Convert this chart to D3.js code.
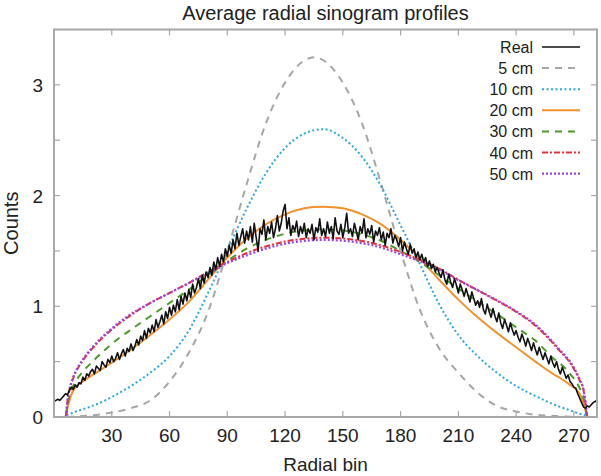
<!DOCTYPE html>
<html>
<head>
<meta charset="utf-8">
<script src="https://cdn.jsdelivr.net/npm/d3@7"></script>
<style>
  html, body { margin: 0; padding: 0; background: #fff; }
  #container { width: 601px; height: 476px; }
  text { font-family: "Liberation Sans", Arial, sans-serif; fill: #222; }
</style>
</head>
<body>
<div id="container"></div>
<script>
// measured real profile, one value per radial bin (0..282)
const realCounts = [
  0.14,0.15,0.16,0.15,0.17,0.19,0.21,0.2,0.24,0.27,
  0.25,0.29,0.27,0.31,0.3,0.36,0.33,0.39,0.37,0.41,
  0.43,0.39,0.46,0.44,0.42,0.5,0.47,0.45,0.52,0.49,
  0.55,0.5,0.53,0.58,0.52,0.57,0.61,0.55,0.62,0.59,
  0.66,0.6,0.64,0.7,0.65,0.73,0.69,0.78,0.71,0.8,
  0.76,0.83,0.77,0.88,0.81,0.86,0.92,0.84,0.95,0.89,
  0.99,0.92,1.01,0.95,1.06,0.97,1.09,1.02,1.12,1.05,
  1.15,1.08,1.2,1.12,1.17,1.25,1.16,1.28,1.21,1.31,
  1.26,1.35,1.28,1.4,1.33,1.44,1.36,1.47,1.4,1.52,
  1.45,1.55,1.48,1.6,1.52,1.66,1.55,1.63,1.7,1.57,
  1.68,1.6,1.72,1.58,1.75,1.62,1.5,1.7,1.65,1.78,
  1.6,1.72,1.66,1.76,1.62,1.7,1.82,1.68,1.75,1.86,
  1.92,1.7,1.8,1.64,1.73,1.68,1.77,1.63,1.72,1.66,
  1.75,1.62,1.7,1.66,1.74,1.6,1.71,1.67,1.79,1.64,
  1.7,1.63,1.76,1.66,1.72,1.61,1.8,1.68,1.65,1.74,
  1.62,1.71,1.84,1.66,1.7,1.63,1.75,1.68,1.6,1.72,
  1.66,1.79,1.62,1.7,1.65,1.73,1.58,1.68,1.64,1.71,
  1.6,1.67,1.55,1.66,1.62,1.7,1.57,1.64,1.6,1.54,
  1.62,1.5,1.58,1.52,1.47,1.56,1.48,1.52,1.44,1.49,
  1.42,1.47,1.4,1.44,1.36,1.41,1.34,1.38,1.31,1.35,
  1.3,1.26,1.33,1.24,1.2,1.29,1.22,1.17,1.25,1.19,
  1.12,1.2,1.15,1.09,1.16,1.1,1.04,1.13,1.07,1.01,
  1.05,0.99,1.07,0.97,0.93,1.02,0.95,0.9,0.98,0.91,
  0.86,0.94,0.85,0.8,0.88,0.83,0.77,0.85,0.79,0.74,
  0.78,0.72,0.68,0.75,0.7,0.64,0.71,0.66,0.6,0.67,
  0.61,0.56,0.63,0.57,0.52,0.58,0.53,0.48,0.55,0.49,
  0.45,0.5,0.43,0.39,0.45,0.4,0.35,0.38,0.32,0.3,
  0.27,0.26,0.21,0.17,0.13,0.09,0.08,0.1,0.09,0.11,
  0.13,0.14,0.15
];

// simulated profiles, sampled at these bins
const modelBins = [0,6,7,8,10,15,20,30,40,50,60,70,80,90,100,110,120,130,135,140,
  150,160,170,180,190,200,210,220,230,240,250,260,263,268,273,275,276,277,282];
const sim5cm  = [0,0,0,0,0.003,0.008,0.015,0.04,0.08,0.15,0.32,0.58,0.95,1.5,2.1,2.65,3.02,3.22,3.25,3.22,
  3.02,2.65,2.1,1.5,0.97,0.62,0.4,0.22,0.1,0.05,0.02,0.01,0.006,0.003,0.001,0,0,0,0];
const sim10cm = [0,0,0.02,0.025,0.04,0.07,0.1,0.18,0.28,0.4,0.55,0.78,1.12,1.5,1.88,2.2,2.43,2.56,2.59,2.6,
  2.52,2.35,2.08,1.73,1.38,1.02,0.74,0.55,0.4,0.28,0.19,0.11,0.09,0.06,0.03,0.02,0.015,0,0];
const sim20cm = [0,0,0.08,0.15,0.24,0.32,0.38,0.49,0.61,0.74,0.88,1.04,1.24,1.44,1.61,1.74,1.83,1.885,1.897,1.9,
  1.885,1.83,1.74,1.6,1.43,1.24,1.06,0.9,0.76,0.63,0.5,0.38,0.35,0.29,0.21,0.13,0.06,0,0];
const sim30cm = [0,0,0.1,0.19,0.28,0.41,0.5,0.66,0.79,0.91,1.03,1.15,1.28,1.41,1.52,1.6,1.655,1.685,1.692,1.695,
  1.685,1.65,1.59,1.5,1.4,1.28,1.16,1.04,0.93,0.81,0.69,0.52,0.48,0.39,0.26,0.17,0.09,0,0];
const sim40cm = [0,0,0.14,0.24,0.35,0.51,0.62,0.79,0.92,1.03,1.12,1.21,1.31,1.4,1.48,1.54,1.585,1.61,1.617,1.62,
  1.612,1.59,1.55,1.49,1.42,1.34,1.24,1.145,1.05,0.95,0.825,0.65,0.59,0.49,0.33,0.24,0.13,0,0];
const sim50cm = [0,0,0.15,0.25,0.36,0.52,0.63,0.8,0.93,1.03,1.12,1.21,1.3,1.39,1.46,1.52,1.565,1.59,1.597,1.6,
  1.592,1.57,1.53,1.47,1.405,1.33,1.235,1.145,1.055,0.955,0.835,0.66,0.6,0.5,0.34,0.25,0.14,0,0];

const legendLabels = ["Real", "5 cm", "10 cm", "20 cm", "30 cm", "40 cm", "50 cm"];
const xTickValues = [30, 60, 90, 120, 150, 180, 210, 240, 270];
const yTickValues = [0, 0.5, 1, 1.5, 2, 2.5, 3, 3.5];

const W = 601, H = 476;
const margin = { top: 29.5, right: 4, bottom: 59, left: 54 };
const frame = "#a8a8a8";

const svg = d3.select("#container").append("svg")
  .attr("width", W).attr("height", H);

const x = d3.scaleLinear().domain([0, 282]).range([margin.left, W - margin.right]);
const y = d3.scaleLinear().domain([0, 3.5]).range([H - margin.bottom, margin.top]);

// ticks on all four sides, pointing inward
const tickLen = 6;
const axes = svg.append("g").attr("stroke", frame).attr("stroke-width", 1.2);
xTickValues.forEach(v => {
  axes.append("line").attr("x1", x(v)).attr("x2", x(v)).attr("y1", y(0)).attr("y2", y(0) - tickLen);
  axes.append("line").attr("x1", x(v)).attr("x2", x(v)).attr("y1", y(3.5)).attr("y2", y(3.5) + tickLen);
});
yTickValues.forEach(v => {
  axes.append("line").attr("x1", x(0)).attr("x2", x(0) + tickLen).attr("y1", y(v)).attr("y2", y(v));
  axes.append("line").attr("x1", x(282)).attr("x2", x(282) - tickLen).attr("y1", y(v)).attr("y2", y(v));
});

const curves = svg.append("g").attr("fill", "none");
const sims = [
  { vals: sim5cm,  color: "#a6a6a6", dash: "7,6",   w: 2 },
  { vals: sim10cm, color: "#2aa7df", dash: "2,2.5", w: 2 },
  { vals: sim20cm, color: "#f1922c", dash: null,    w: 2 },
  { vals: sim30cm, color: "#4c9a2a", dash: "7,6",   w: 2 },
  { vals: sim40cm, color: "#e4303c", dash: "6,2,2,2", w: 2 },
  { vals: sim50cm, color: "#9a44e0", dash: "2,2",   w: 2.2 }
];
const simLine = d3.line().x(d => x(d[0])).y(d => y(d[1])).curve(d3.curveMonotoneX);
sims.forEach(s => {
  curves.append("path")
    .datum(modelBins.map((b, i) => [b, s.vals[i]]))
    .attr("d", simLine)
    .attr("stroke", s.color).attr("stroke-width", s.w)
    .attr("stroke-dasharray", s.dash);
});

const realLine = d3.line().x((d, i) => x(i)).y(d => y(d));
curves.append("path").datum(realCounts).attr("d", realLine)
  .attr("stroke", "#111").attr("stroke-width", 1.6).attr("stroke-linejoin", "round");

// frame
svg.append("rect")
  .attr("x", x(0)).attr("y", y(3.5)).attr("width", x(282) - x(0)).attr("height", y(0) - y(3.5))
  .attr("fill", "none").attr("stroke", frame).attr("stroke-width", 2);

// tick labels
svg.append("g").selectAll("text").data(xTickValues).enter().append("text")
  .attr("x", d => x(d)).attr("y", y(0) + 25)
  .attr("text-anchor", "middle").attr("font-size", 19).text(d => d);
svg.append("g").selectAll("text").data(yTickValues.filter(v => Number.isInteger(v))).enter().append("text")
  .attr("x", x(0) - 11).attr("y", d => y(d) + 7)
  .attr("text-anchor", "end").attr("font-size", 19).text(d => d);

svg.append("text").attr("x", (x(0) + x(282)) / 2).attr("y", 20)
  .attr("text-anchor", "middle").attr("font-size", 20).text("Average radial sinogram profiles");
svg.append("text").attr("x", (x(0) + x(282)) / 2).attr("y", 471)
  .attr("text-anchor", "middle").attr("font-size", 19).text("Radial bin");
svg.append("text").attr("transform", `translate(18,${y(1.75)}) rotate(-90)`)
  .attr("text-anchor", "middle").attr("font-size", 20).text("Counts");

// legend
const legendStyles = [{ color: "#111", dash: null, w: 1.6 }].concat(sims);
const legend = svg.append("g");
legendLabels.forEach((lab, i) => {
  const ly = 47 + i * 21.1;
  legend.append("text").attr("x", 533).attr("y", ly + 6)
    .attr("text-anchor", "end").attr("font-size", 16).text(lab);
  legend.append("line").attr("x1", 542).attr("x2", 580).attr("y1", ly).attr("y2", ly)
    .attr("stroke", legendStyles[i].color).attr("stroke-width", legendStyles[i].w)
    .attr("stroke-dasharray", legendStyles[i].dash);
});
</script>
</body>
</html>
